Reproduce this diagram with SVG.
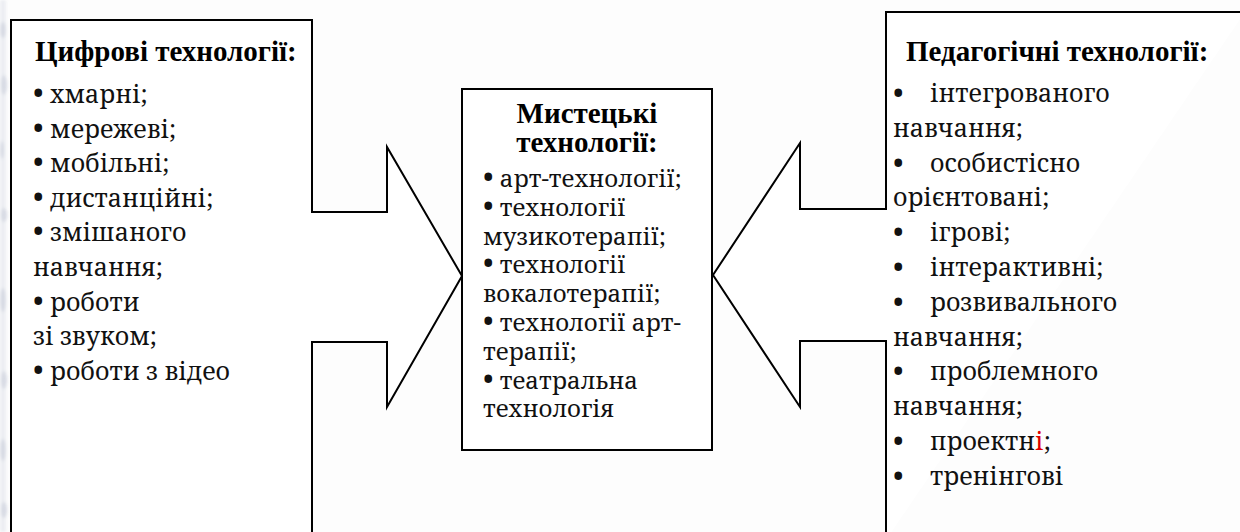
<svg xmlns="http://www.w3.org/2000/svg" width="1240" height="532" viewBox="0 0 1240 532">
  <style>
    .frame { fill: #ffffff; stroke: #000000; stroke-width: 2; stroke-linejoin: miter; }
    .title { font-family: "Liberation Serif", "Noto Serif", serif; font-weight: bold; font-size: 29px; fill: #000; }
    .li { font-family: "Noto Serif", "DejaVu Serif Condensed", serif; font-size: 25px; fill: #111; }
    .cli { font-family: "Noto Serif", "DejaVu Serif Condensed", serif; font-size: 24px; fill: #111; }
    .b { font-size: 29px; }
    .red { fill: #e00000; }
  </style>
  <defs>
    <filter id="soft" x="-50%" y="-10%" width="200%" height="120%">
      <feGaussianBlur stdDeviation="1.6"/>
    </filter>
  </defs>

  <rect x="0" y="0" width="1240" height="532" fill="#fdfdfd"/>

  <!-- faint scan texture along the left margin -->
  <g id="margin-texture" filter="url(#soft)" fill="#b9bfd0" opacity="0.55">
    <rect x="0" y="0" width="6" height="532" fill="#dfe2ea"/>
    <ellipse cx="3" cy="30" rx="3" ry="8"/>
    <ellipse cx="4" cy="85" rx="3" ry="10"/>
    <ellipse cx="2" cy="150" rx="2" ry="9"/>
    <ellipse cx="4" cy="215" rx="3" ry="7"/>
    <ellipse cx="3" cy="300" rx="3" ry="12"/>
    <ellipse cx="4" cy="380" rx="3" ry="9"/>
    <ellipse cx="3" cy="450" rx="3" ry="11"/>
    <ellipse cx="4" cy="510" rx="3" ry="8"/>
  </g>

  <!-- arrow-shaped frames: the side panels point at the centre box -->
  <g id="connectors">
    <path id="arrow-left" class="frame" d="M 11 540 L 11 20 L 312 20 L 312 212 L 387 212 L 387 147 L 462 276 L 387 407 L 387 342 L 312 342 L 312 540"/>
    <path id="arrow-right" class="frame" d="M 1245 12 L 886 12 L 886 209 L 800 209 L 800 143 L 713 275 L 800 407 L 800 341 L 886 341 L 886 540"/>
  </g>

  <!-- left panel: digital technologies -->
  <g id="node-digital">
    <text class="title" x="35" y="61">Цифрові технології:</text>
    <text class="li" x="33" y="103"><tspan class="b">•</tspan> хмарні;</text>
    <text class="li" x="33" y="138"><tspan class="b">•</tspan> мережеві;</text>
    <text class="li" x="33" y="172"><tspan class="b">•</tspan> мобільні;</text>
    <text class="li" x="33" y="207"><tspan class="b">•</tspan> дистанційні;</text>
    <text class="li" x="33" y="241"><tspan class="b">•</tspan> змішаного</text>
    <text class="li" x="33" y="276">навчання;</text>
    <text class="li" x="33" y="311"><tspan class="b">•</tspan> роботи</text>
    <text class="li" x="33" y="345">зі звуком;</text>
    <text class="li" x="33" y="380"><tspan class="b">•</tspan> роботи з відео</text>
  </g>

  <!-- centre panel: art technologies -->
  <g id="node-art">
    <rect class="frame" x="462" y="89" width="250" height="361"/>
    <text class="title" x="587" y="123" text-anchor="middle">Мистецькі</text>
    <text class="title" x="587" y="152" text-anchor="middle">технології:</text>
    <text class="cli" x="483" y="187"><tspan class="b">•</tspan> арт-технології;</text>
    <text class="cli" x="483" y="216"><tspan class="b">•</tspan> технології</text>
    <text class="cli" x="483" y="245">музикотерапії;</text>
    <text class="cli" x="483" y="273"><tspan class="b">•</tspan> технології</text>
    <text class="cli" x="483" y="302">вокалотерапії;</text>
    <text class="cli" x="483" y="331"><tspan class="b">•</tspan> технології арт-</text>
    <text class="cli" x="483" y="360">терапії;</text>
    <text class="cli" x="483" y="389"><tspan class="b">•</tspan> театральна</text>
    <text class="cli" x="483" y="417">технологія</text>
  </g>

  <!-- right panel: pedagogical technologies -->
  <g id="node-pedagogical">
    <text class="title" x="906" y="61">Педагогічні технології:</text>
    <text class="li b" x="893" y="103">•</text><text class="li" x="930" y="102">інтегрованого</text>
    <text class="li" x="893" y="137">навчання;</text>
    <text class="li b" x="893" y="173">•</text><text class="li" x="930" y="172">особистісно</text>
    <text class="li" x="893" y="206">орієнтовані;</text>
    <text class="li b" x="893" y="242">•</text><text class="li" x="930" y="241">ігрові;</text>
    <text class="li b" x="893" y="277">•</text><text class="li" x="930" y="276">інтерактивні;</text>
    <text class="li b" x="893" y="312">•</text><text class="li" x="930" y="311">розвивального</text>
    <text class="li" x="893" y="346">навчання;</text>
    <text class="li b" x="893" y="381">•</text><text class="li" x="930" y="380">проблемного</text>
    <text class="li" x="893" y="415">навчання;</text>
    <text class="li b" x="893" y="451">•</text><text class="li" x="930" y="450">проектн<tspan class="red">і</tspan>;</text>
    <text class="li b" x="893" y="486">•</text><text class="li" x="930" y="485">тренінгові</text>
  </g>
</svg>
